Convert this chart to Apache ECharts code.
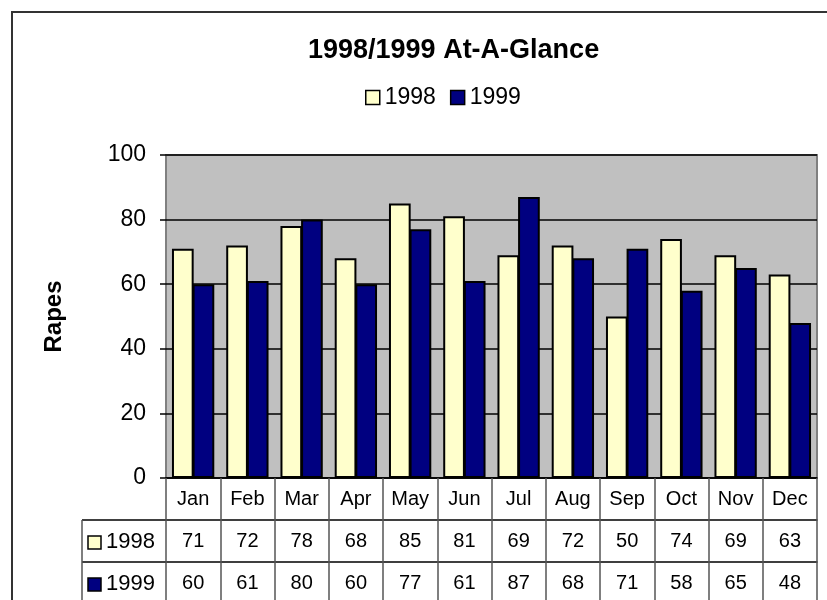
<!DOCTYPE html>
<html>
<head>
<meta charset="utf-8">
<script src="https://cdn.jsdelivr.net/npm/echarts@6/dist/echarts.min.js"></script>
<style>
  html, body { margin: 0; padding: 0; background: #fff; }
  #chart { width: 827px; height: 600px; }
</style>
</head>
<body>
<div id="chart"></div>
<script>
// data
const months = ['Jan', 'Feb', 'Mar', 'Apr', 'May', 'Jun', 'Jul', 'Aug', 'Sep', 'Oct', 'Nov', 'Dec']
const rapes1998 = [71, 72, 78, 68, 85, 81, 69, 72, 50, 74, 69, 63]
const rapes1999 = [60, 61, 80, 60, 77, 61, 87, 68, 71, 58, 65, 48]
const seriesNames = ['1998', '1999']
const yTicks = [0, 20, 40, 60, 80, 100]

const FONT = 'Arial, "Liberation Sans", sans-serif'
const C1998 = '#FFFFCC'
const C1999 = '#000080'

// plot area
const G = { left: 166, right: 10, top: 155, bottom: 122 }
const ROW = 42
const tableLeft = 82

const chart = echarts.init(document.getElementById('chart'))

// one x axis per table row, stacked under the plot
function tableAxis(data, offset) {
  return {
    type: 'category',
    data: data,
    gridIndex: 0,
    position: 'bottom',
    offset: offset,
    axisLine: { show: true, lineStyle: { color: '#000', width: 1.5 } },
    axisTick: { show: true, length: ROW, lineStyle: { color: '#555', width: 1.5 } },
    axisLabel: { color: '#000', fontSize: 20, fontFamily: FONT, margin: 11, interval: 0 },
    splitLine: { show: false }
  }
}

chart.setOption({
  animation: false,
  backgroundColor: '#fff',
  title: {
    text: '1998/1999 At-A-Glance',
    left: 303,
    top: 32,
    textStyle: { fontSize: 27, fontWeight: 'bold', color: '#000', fontFamily: FONT }
  },
  legend: {
    data: seriesNames,
    top: 81,
    left: 360,
    icon: 'rect',
    itemWidth: 14,
    itemHeight: 14,
    itemGap: 14,
    itemStyle: { borderColor: '#000', borderWidth: 1.5 },
    textStyle: { fontSize: 23, color: '#000', fontFamily: FONT }
  },
  grid: {
    left: G.left, right: G.right, top: G.top, bottom: G.bottom,
    show: true,
    backgroundColor: '#C0C0C0',
    borderColor: '#808080',
    borderWidth: 2
  },
  xAxis: [
    tableAxis(months, 0),
    tableAxis(rapes1998.map(String), ROW),
    tableAxis(rapes1999.map(String), ROW * 2)
  ],
  yAxis: {
    type: 'value',
    min: yTicks[0],
    max: yTicks[yTicks.length - 1],
    interval: 20,
    name: 'Rapes',
    nameLocation: 'middle',
    nameRotate: 90,
    nameGap: 100,
    nameTextStyle: { fontSize: 24, fontWeight: 'bold', color: '#000', fontFamily: FONT },
    axisLine: { show: false },
    axisTick: { show: true, length: 6, lineStyle: { color: '#000', width: 1.5 } },
    axisLabel: { color: '#000', fontSize: 23, fontFamily: FONT, margin: 20 },
    splitLine: { show: true, lineStyle: { color: '#000', width: 1.5 } }
  },
  series: [
    {
      name: seriesNames[0],
      type: 'bar',
      xAxisIndex: 0,
      data: rapes1998,
      barWidth: '40%',
      barGap: '-5%',
      itemStyle: { color: C1998, borderColor: '#000', borderWidth: 2 }
    },
    {
      name: seriesNames[1],
      type: 'bar',
      xAxisIndex: 0,
      data: rapes1999,
      barWidth: '40%',
      barGap: '-5%',
      itemStyle: { color: C1999, borderColor: '#000', borderWidth: 2 }
    }
  ]
})

// legend column of the data table and the outer frame
const zeroY = chart.convertToPixel({ yAxisIndex: 0 }, 0)
const r1 = zeroY + ROW
const r2 = zeroY + ROW * 2
const graphics = [
  { type: 'rect', shape: { x: 12, y: 12, width: 900, height: 700 }, style: { fill: 'none', stroke: '#333', lineWidth: 2 }, silent: true },
  { type: 'line', shape: { x1: tableLeft, y1: r1, x2: G.left, y2: r1 }, style: { stroke: '#000', lineWidth: 1.5 } },
  { type: 'line', shape: { x1: tableLeft, y1: r2, x2: G.left, y2: r2 }, style: { stroke: '#000', lineWidth: 1.5 } },
  { type: 'line', shape: { x1: tableLeft, y1: r1, x2: tableLeft, y2: r2 + ROW }, style: { stroke: '#555', lineWidth: 1.5 } }
]
const keyColors = [C1998, C1999]
seriesNames.forEach(function (name, i) {
  const cy = r1 + ROW * i + ROW / 2
  graphics.push({ type: 'rect', shape: { x: 88, y: cy - 5, width: 13, height: 13 }, style: { fill: keyColors[i], stroke: '#000', lineWidth: 1.5 } })
  graphics.push({ type: 'text', x: 106, y: cy + 1, style: { text: name, fontSize: 22, fontFamily: FONT, fill: '#000', verticalAlign: 'middle' } })
})
chart.setOption({ graphic: graphics })
</script>
</body>
</html>
